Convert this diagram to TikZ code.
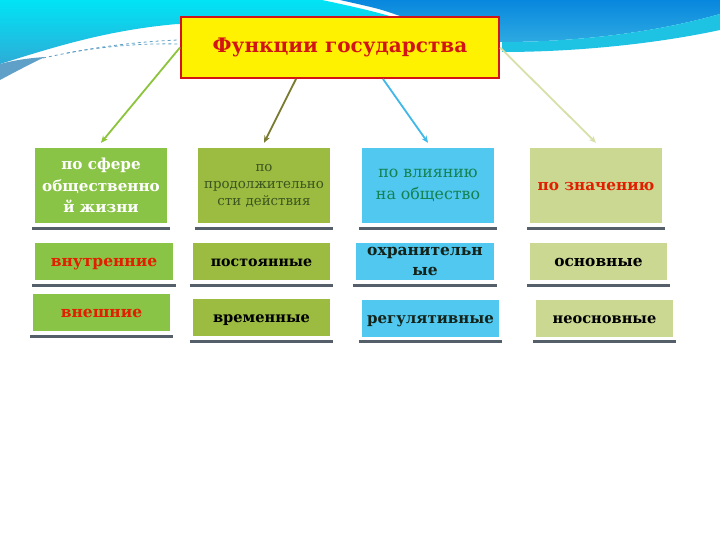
\documentclass[tikz,border=0pt]{standalone}
\usepackage{fontspec}
\setmainfont{DejaVu Serif}
\usetikzlibrary{arrows.meta}
\definecolor{cyanA}{RGB}{0,228,245}
\definecolor{cyanB}{RGB}{45,172,215}
\definecolor{blueA}{RGB}{8,135,222}
\definecolor{blueB}{RGB}{45,170,225}
\definecolor{bandC}{RGB}{30,195,228}
\definecolor{greyband}{RGB}{95,160,200}
\definecolor{gA}{RGB}{138,196,70}
\definecolor{gB}{RGB}{155,187,65}
\definecolor{gC}{RGB}{80,200,240}
\definecolor{gD}{RGB}{202,216,145}
\definecolor{titleRed}{RGB}{210,20,20}
\definecolor{txtRed}{RGB}{225,30,0}
\definecolor{txtOlive}{RGB}{60,85,30}
\definecolor{txtGreen}{RGB}{20,130,80}
\definecolor{txtDark}{RGB}{20,35,25}
\definecolor{shadowC}{RGB}{85,95,105}
\definecolor{arrA}{RGB}{140,196,60}
\definecolor{arrB}{RGB}{122,122,48}
\definecolor{arrC}{RGB}{64,184,232}
\definecolor{arrD}{RGB}{216,224,168}
\newcommand{\lowtxt}[1]{\raisebox{-5pt}[0pt][0pt]{#1}}
\begin{document}
\begin{tikzpicture}[x=1pt,y=-1pt,
  cell/.style={rectangle, inner sep=0pt},
  hdr/.style={cell, minimum width=132pt, minimum height=75pt},
  row/.style={cell, minimum width=137pt, minimum height=37pt},
  shade line/.style={draw=shadowC, line width=3pt},
  conn/.style={line width=1.8pt, -{Stealth[length=7pt,width=6pt]}}
]
\useasboundingbox (0,0) rectangle (720,540);
\fill[white] (0,0) rectangle (720,540);
% background swooshes
\shade[top color=cyanA, bottom color=cyanB]
  (0,0) -- (322,0) .. controls (360,8) and (385,14) .. (402,20) -- (400,30) -- (177,24)
  .. controls (110,30) and (60,45) .. (0,64) -- cycle;
\fill[greyband] (0,64) .. controls (15,60) and (30,58) .. (45,57) .. controls (30,64) and (15,72) .. (0,80) -- cycle;
\shade[top color=blueA, bottom color=blueB]
  (340,0) -- (720,0) -- (720,14) .. controls (650,34) and (570,42) .. (502,42) -- (420,35)
  -- (400,16) .. controls (380,9) .. (340,0) -- cycle;
\fill[bandC] (502,42) .. controls (570,42) and (650,34) .. (720,14) -- (720,30)
  .. controls (650,45) and (570,52) .. (502,52) -- cycle;
\draw[greyband, dashed, line width=0.8pt] (43,58) .. controls (90,48) and (130,42) .. (178,40);
\draw[greyband, dashed, line width=0.8pt] (67,53) .. controls (100,47) and (140,43) .. (178,44);
% title
\node[draw=titleRed, line width=2pt, fill=yellow, minimum width=318pt, minimum height=61pt, inner sep=0pt,
  font=\bfseries\fontsize{20}{24}\selectfont, text=titleRed] (title) at (340,47.5) {Функции государства};
% headers
\node[hdr, align=center, fill=gA, text=white, font=\bfseries\fontsize{15.2}{21.5}\selectfont] (h1) at (101,185.5) {по сфере\\общественно\\й жизни};
\node[hdr, align=center, fill=gB, text=txtOlive, font=\fontsize{13.4}{17}\selectfont] (h2) at (264,185.5) {по\\продолжительно\\сти действия};
\node[hdr, align=center, fill=gC, text=txtGreen, font=\fontsize{15.8}{22}\selectfont] (h3) at (428,185.5) {по влиянию\\на общество};
\node[hdr, fill=gD, text=txtRed, font=\bfseries\fontsize{15.3}{18}\selectfont] (h4) at (596,185.5) {\lowtxt{по значению}};
% row 2
\node[row, fill=gA, text=txtRed, font=\bfseries\fontsize{15.5}{18}\selectfont, minimum width=138pt] (a1) at (104,261.5) {\lowtxt{внутренние}};
\node[row, fill=gB, text=black, font=\bfseries\fontsize{14.2}{18}\selectfont] (b1) at (261.5,261.5) {\lowtxt{постоянные}};
\node[row, align=center, fill=gC, text=txtDark, font=\bfseries\fontsize{15.5}{20}\selectfont, minimum width=138pt] (c1) at (425,261.5) {охранительн\\ые};
\node[row, fill=gD, text=black, font=\bfseries\fontsize{15.4}{18}\selectfont] (d1) at (598.5,261.5) {\lowtxt{основные}};
% row 3
\node[row, fill=gA, text=txtRed, font=\bfseries\fontsize{15.5}{18}\selectfont] (a2) at (101.5,312.5) {\lowtxt{внешние}};
\node[row, fill=gB, text=black, font=\bfseries\fontsize{14.6}{18}\selectfont] (b2) at (261.5,317.5) {\lowtxt{временные}};
\node[row, fill=gC, text=txtDark, font=\bfseries\fontsize{15}{18}\selectfont] (c2) at (430.5,318) {\lowtxt{регулятивные}};
\node[row, fill=gD, text=black, font=\bfseries\fontsize{14.6}{18}\selectfont] (d2) at (604.5,318) {\lowtxt{неосновные}};
% shadow lines
\foreach \n in {h1,h2,h3,h4,a1,b1,c1,d1,a2,b2,c2,d2}{
  \draw[shade line] ([xshift=-3pt,yshift=-5pt]\n.south west) -- ([xshift=3pt,yshift=-5pt]\n.south east);
}
% connectors
\draw[conn, arrA] (title.west) -- ([yshift=5pt]h1.north);
\draw[conn, arrB] ([xshift=116pt]title.south west) -- ([yshift=5pt]h2.north);
\draw[conn, arrC] ([xshift=203pt]title.south west) -- ([yshift=5pt]h3.north);
\draw[conn, arrD] (title.east) -- ([yshift=5pt]h4.north);
\end{tikzpicture}
\end{document}
